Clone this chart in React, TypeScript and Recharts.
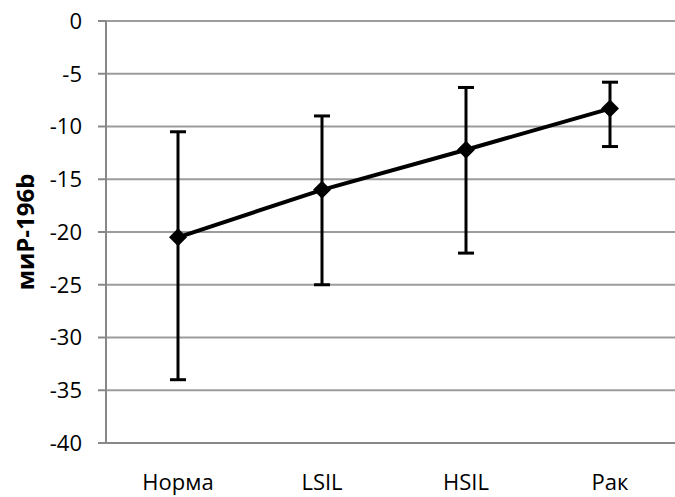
import React from "react";
import { LineChart, Line, XAxis, YAxis, CartesianGrid, ErrorBar } from "recharts";

const groups = ["Норма", "LSIL", "HSIL", "Рак"];
const means = [-20.5, -16, -12.2, -8.3];
const lows = [-34, -25, -22, -11.9];
const highs = [-10.5, -9, -6.3, -5.8];
const yTicks = [0, -5, -10, -15, -20, -25, -30, -35, -40];
const yTitle = "миР-196b";

const data = groups.map((g, i) => ({
  group: g,
  value: means[i],
  err: [means[i] - lows[i], highs[i] - means[i]],
}));

const font = "'Open Sans', sans-serif";

const Diamond = (props: any) => {
  const { cx, cy } = props;
  if (cx == null || cy == null) return null;
  const r = 9;
  return (
    <polygon
      points={`${cx},${cy - r} ${cx + r},${cy} ${cx},${cy + r} ${cx - r},${cy}`}
      fill="#000"
    />
  );
};

const YTitle = (props: any) => {
  const { x, y, height } = props.viewBox;
  const tx = x + 24;
  const ty = y + height / 2;
  return (
    <text
      x={tx}
      y={ty}
      transform={`rotate(-90, ${tx}, ${ty})`}
      textAnchor="middle"
      dominantBaseline="central"
      fill="#000"
      fontSize={24}
      fontWeight={700}
      fontFamily={font}
    >
      {yTitle}
    </text>
  );
};

export default function App() {
  return (
    <div style={{ position: "fixed", left: 0, top: 0, width: 675, height: 497, overflow: "hidden", background: "#fff" }}>
      <LineChart width={700} height={497} data={data} margin={{ top: 21, right: 18, left: 0, bottom: 0 }}>
        <CartesianGrid vertical={false} stroke="#9c9c9c" strokeWidth={2} />
        <XAxis
          dataKey="group"
          height={54}
          padding={{ left: 72, right: 72 }}
          tickLine={false}
          tickSize={0}
          tickMargin={31}
          axisLine={{ stroke: "#888", strokeWidth: 2 }}
          tick={{ fill: "#000", fontSize: 22, fontFamily: font }}
        />
        <YAxis
          width={106}
          domain={[-40, 0]}
          ticks={yTicks}
          interval={0}
          tickSize={8}
          tickMargin={16}
          axisLine={{ stroke: "#888", strokeWidth: 2 }}
          tickLine={{ stroke: "#888", strokeWidth: 2 }}
          tick={{ fill: "#000", fontSize: 22, fontFamily: font }}
          label={{ content: YTitle }}
        />
        <Line
          dataKey="value"
          stroke="#000"
          strokeWidth={4}
          dot={<Diamond />}
          activeDot={false}
          isAnimationActive={false}
        >
          <ErrorBar dataKey="err" direction="y" width={8} strokeWidth={3} stroke="#000" />
        </Line>
      </LineChart>
    </div>
  );
}
